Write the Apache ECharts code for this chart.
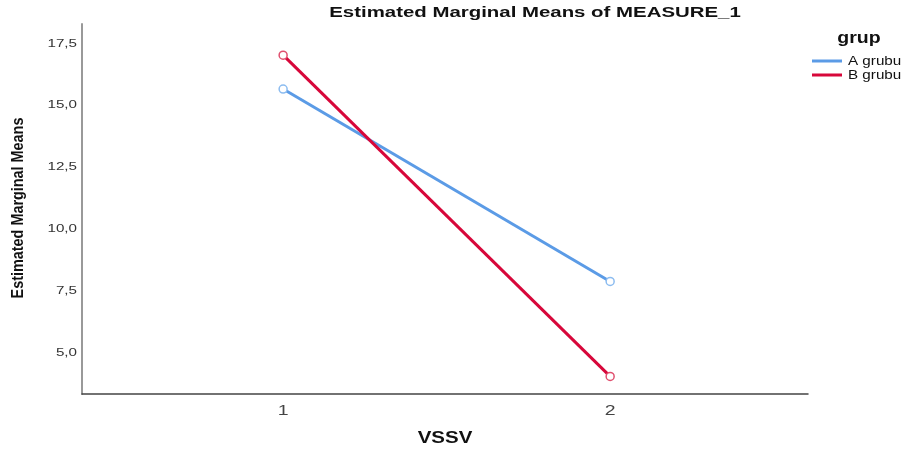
<!DOCTYPE html>
<html><head><meta charset="utf-8">
<script src="https://cdn.jsdelivr.net/npm/echarts@6/dist/echarts.min.js"></script>
<style>html,body{margin:0;padding:0;background:#fff}#c{width:907px;height:452px}</style>
</head><body><div id="c"></div>
<script>
var xValues = [1, 2];
var xTickLabels = ['1', '2'];
var seriesNames = ['A grubu', 'B grubu'];
var grupA = [15.66, 7.88];
var grupB = [17.03, 4.04];
var yTicks = [5, 7.5, 10, 12.5, 15, 17.5];
var yTickLabels = ['5,0', '7,5', '10,0', '12,5', '15,0', '17,5'];
var titleText = 'Estimated Marginal Means of MEASURE_1';
var xName = 'VSSV';
var yName = 'Estimated Marginal Means';
var legendTitle = 'grup';

var colors = ['#5b9be6', '#d7073a'];
var borderColors = ['#8cbcf0', '#e0506f'];
function pairs(v){ return xValues.map(function(x,i){return [x, v[i]];}); }
var chart = echarts.init(document.getElementById('c'));
chart.setOption({
  animation:false,
  grid:{left:82, right:99, top:24, bottom:58, outerBoundsMode:'none', containLabel:false},
  xAxis:{type:'value', min:0.385, max:2.605,
    axisLine:{show:true, onZero:false, lineStyle:{color:'#444', width:1.5}},
    axisTick:{show:false}, splitLine:{show:false}, axisLabel:{show:false}},
  yAxis:{type:'value', min:3.33, max:18.29,
    axisLine:{show:true, lineStyle:{color:'#999', width:2}},
    axisTick:{show:false}, splitLine:{show:false}, axisLabel:{show:false}},
  series:[
    {name:seriesNames[0], type:'line', data:pairs(grupA), symbol:'circle', symbolSize:8,
      lineStyle:{color:colors[0], width:3}, itemStyle:{color:'#fff', borderColor:borderColors[0], borderWidth:1.5}},
    {name:seriesNames[1], type:'line', data:pairs(grupB), symbol:'circle', symbolSize:8,
      lineStyle:{color:colors[1], width:3}, itemStyle:{color:'#fff', borderColor:borderColors[1], borderWidth:1.5}}
  ]
});

var F = '"Liberation Sans", Arial, sans-serif';
var g = [];
function txt(x, y, s, font, sx, align, color, rot){
  g.push({type:'text', x:x, y:y, scaleX:sx, rotation:rot||0,
    style:{text:s, font:font, fill:color||'#111', align:align||'center', verticalAlign:'middle'}});
}
// title
txt(535, 13, titleText, 'bold 15px ' + F, 1.36, 'center', '#111');
// x tick labels
xValues.forEach(function(v,i){
  var p = chart.convertToPixel({gridIndex:0}, [v, 3.33]);
  txt(p[0], p[1] + 17, xTickLabels[i], '15px ' + F, 1.3, 'center', '#444');
});
// y tick labels
yTicks.forEach(function(v,i){
  var p = chart.convertToPixel({gridIndex:0}, [0.385, v]);
  txt(p[0] - 5, p[1], yTickLabels[i], '11px ' + F, 1.38, 'right', '#333');
});
// axis names
txt(445, 439, xName, 'bold 16px ' + F, 1.28, 'center', '#111');
txt(19, 208, yName, 'bold 16px ' + F, 0.9, 'center', '#111', Math.PI/2);
// legend
txt(859, 39, legendTitle, 'bold 16px ' + F, 1.22, 'center', '#111');
seriesNames.forEach(function(n,i){
  var y = 61 + i*14;
  g.push({type:'line', shape:{x1:812,y1:y,x2:842,y2:y}, style:{stroke:colors[i], lineWidth:3}});
  txt(848, y, n, '13px ' + F, 1.17, 'left', '#111');
});
chart.setOption({graphic:g});
</script></body></html>
